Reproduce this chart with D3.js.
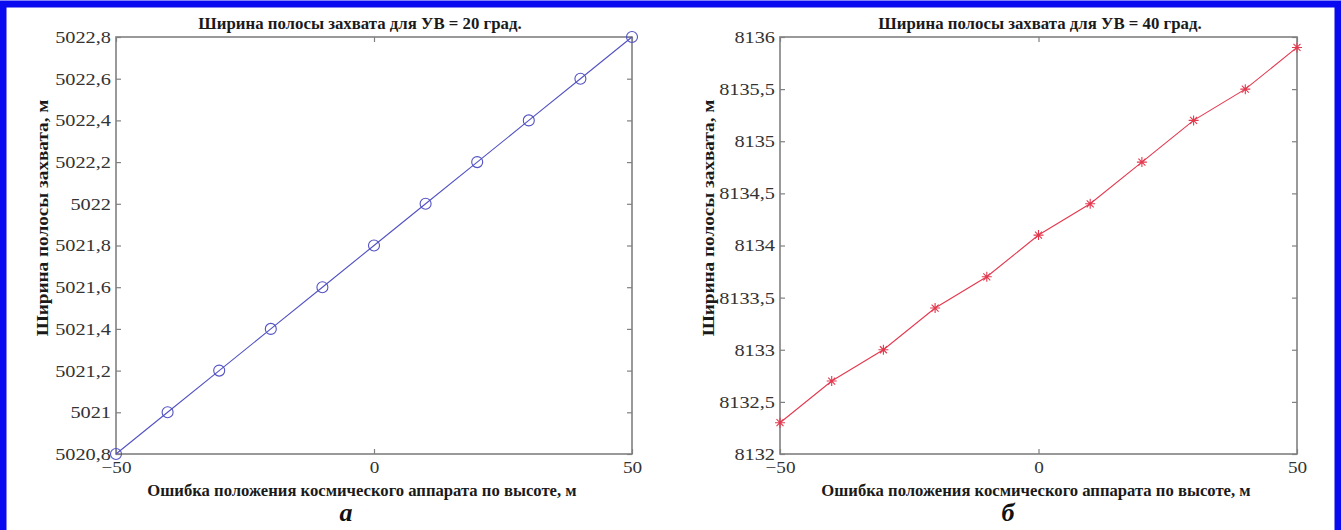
<!DOCTYPE html>
<html>
<head>
<meta charset="utf-8">
<script src="https://cdn.jsdelivr.net/npm/d3@7"></script>
<style>
  html, body { margin: 0; padding: 0; background: #fff; }
  svg { display: block; }
  text { font-family: "Liberation Serif", "Times New Roman", serif; }
</style>
</head>
<body>
<svg id="fig" width="1341" height="530"></svg>
<script>
// Altitude error of the spacecraft, m
const altError = [-50, -40, -30, -20, -10, 0, 10, 20, 30, 40, 50];
// Swath width for off-nadir angle 20 deg, m
const swath20 = [5020.8, 5021.0, 5021.2, 5021.4, 5021.6, 5021.8, 5022.0, 5022.2, 5022.4, 5022.6, 5022.8];
// Swath width for off-nadir angle 40 deg, m
const swath40 = [8132.3, 8132.7, 8133.0, 8133.4, 8133.7, 8134.1, 8134.4, 8134.8, 8135.2, 8135.5, 8135.9];

const xTicks = [-50, 0, 50];
const yTicks20 = [5020.8, 5021.0, 5021.2, 5021.4, 5021.6, 5021.8, 5022.0, 5022.2, 5022.4, 5022.6, 5022.8];
const yTicks40 = [8132, 8132.5, 8133, 8133.5, 8134, 8134.5, 8135, 8135.5, 8136];

const titles = ["Ширина полосы захвата для УВ = 20 град.", "Ширина полосы захвата для УВ = 40 град."];
const xLabel = "Ошибка положения космического аппарата по высоте, м";
const yLabel = "Ширина полосы захвата, м";
const panelTags = ["а", "б"];

const svg = d3.select("#fig");
const ru = d3.formatLocale({decimal: ",", thousands: "", grouping: [3], currency: ["", ""], minus: "\u2212"});
const fmtY = ru.format(".1~f");
const fmtX = ru.format("d");
const SERIF = "'Liberation Serif', 'Times New Roman', serif";

// widen glyphs horizontally by a factor (the figure's lettering is set wide)
function widen(sel, k) {
  sel.each(function () {
    const w = this.getComputedTextLength();
    d3.select(this).attr("textLength", w * k).attr("lengthAdjust", "spacingAndGlyphs");
  });
}

// blue frame around the figure
svg.append("path")
  .attr("d", "M3,530 V4 H1338 V530")
  .attr("fill", "none")
  .attr("stroke", "#0a0af0")
  .attr("stroke-width", 7);

const AXIS = "#808080";
const TXT = "#333";

function panel(cfg) {
  const {left, right, top, bottom, yDomain, yTicks, values, color, marker,
         title, titleX, labelX, yLabelX, tag, tagX} = cfg;
  const x = d3.scaleLinear().domain([-50, 50]).range([left, right]);
  const y = d3.scaleLinear().domain(yDomain).range([bottom, top]);
  const g = svg.append("g");
  const tick = 5;

  // inward ticks on all four sides
  const axes = [
    [d3.axisBottom(x).tickValues(xTicks).tickSize(tick).tickFormat(fmtX), `translate(0,${bottom})`, "bottom"],
    [d3.axisTop(x).tickValues(xTicks).tickSize(tick).tickFormat(""), `translate(0,${top})`, "top"],
    [d3.axisLeft(y).tickValues(yTicks).tickSize(tick).tickFormat(fmtY), `translate(${left},0)`, "left"],
    [d3.axisRight(y).tickValues(yTicks).tickSize(tick).tickFormat(""), `translate(${right},0)`, "right"]
  ];
  axes.forEach(([ax, tr, side]) => {
    const a = g.append("g").attr("transform", tr).call(ax);
    a.attr("font-family", null);
    a.select(".domain").remove();
    a.selectAll(".tick line")
      .attr("stroke", AXIS).attr("stroke-width", 1.2)
      .attr("x2", side === "left" ? tick : side === "right" ? -tick : 0)
      .attr("y2", side === "bottom" ? -tick : side === "top" ? tick : 0);
    const t = a.selectAll(".tick text")
      .attr("fill", TXT)
      .style("font-size", "16px")
      .style("font-family", SERIF);
    if (side === "left") { t.attr("x", -5).attr("dy", "0.34em"); widen(t, 1.27); }
    if (side === "bottom") { t.attr("y", 8).attr("dy", "0.71em"); widen(t, 1.2); }
  });

  // plot box
  g.append("rect")
    .attr("x", left).attr("y", top)
    .attr("width", right - left).attr("height", bottom - top)
    .attr("fill", "none").attr("stroke", AXIS).attr("stroke-width", 1.6);

  const line = d3.line().x((d, i) => x(altError[i])).y(d => y(d));
  g.append("path").datum(values)
    .attr("d", line).attr("fill", "none")
    .attr("stroke", color).attr("stroke-width", 1.1);

  const pts = g.selectAll(".pt").data(values).join("g")
    .attr("transform", (d, i) => `translate(${x(altError[i])},${y(d)})`);
  if (marker === "circle") {
    pts.append("circle").attr("r", 5.5)
      .attr("fill", "none").attr("stroke", color).attr("stroke-width", 1.1);
  } else {
    const s = 5;
    pts.append("path")
      .attr("d", `M${-s},0H${s}M0,${-s}V${s}M${-s*0.7},${-s*0.7}L${s*0.7},${s*0.7}M${-s*0.7},${s*0.7}L${s*0.7},${-s*0.7}`)
      .attr("stroke", color).attr("stroke-width", 1.1).attr("fill", "none");
  }

  const tt = g.append("text").attr("x", titleX).attr("y", 29)
    .attr("text-anchor", "middle").attr("fill", "#1a1a1a")
    .style("font-size", "16px").style("font-weight", "bold")
    .text(title);
  widen(tt, 1.05);
  const xl = g.append("text").attr("x", labelX).attr("y", 496)
    .attr("text-anchor", "middle").attr("fill", "#1a1a1a")
    .style("font-size", "16px").style("font-weight", "bold")
    .text(xLabel);
  widen(xl, 1.04);
  const yl = g.append("text")
    .attr("transform", `translate(${yLabelX},218) rotate(-90)`)
    .attr("text-anchor", "middle").attr("fill", "#1a1a1a")
    .style("font-size", "16px").style("font-weight", "bold")
    .text(yLabel);
  widen(yl, 1.2);
  g.append("text").attr("x", tagX).attr("y", 521)
    .attr("text-anchor", "middle").attr("fill", "#111")
    .style("font-size", "26px").style("font-weight", "bold").style("font-style", "italic")
    .text(tag);
}

panel({left: 116, right: 632, top: 37, bottom: 454,
  yDomain: [5020.8, 5022.8], yTicks: yTicks20, values: swath20,
  color: "#5252c4", marker: "circle", title: titles[0],
  titleX: 360, labelX: 362, yLabelX: 48, tag: panelTags[0], tagX: 346});
panel({left: 780, right: 1297, top: 37, bottom: 454,
  yDomain: [8132, 8136], yTicks: yTicks40, values: swath40,
  color: "#e3394f", marker: "star", title: titles[1],
  titleX: 1040, labelX: 1036, yLabelX: 714, tag: panelTags[1], tagX: 1008});
</script>
</body>
</html>
